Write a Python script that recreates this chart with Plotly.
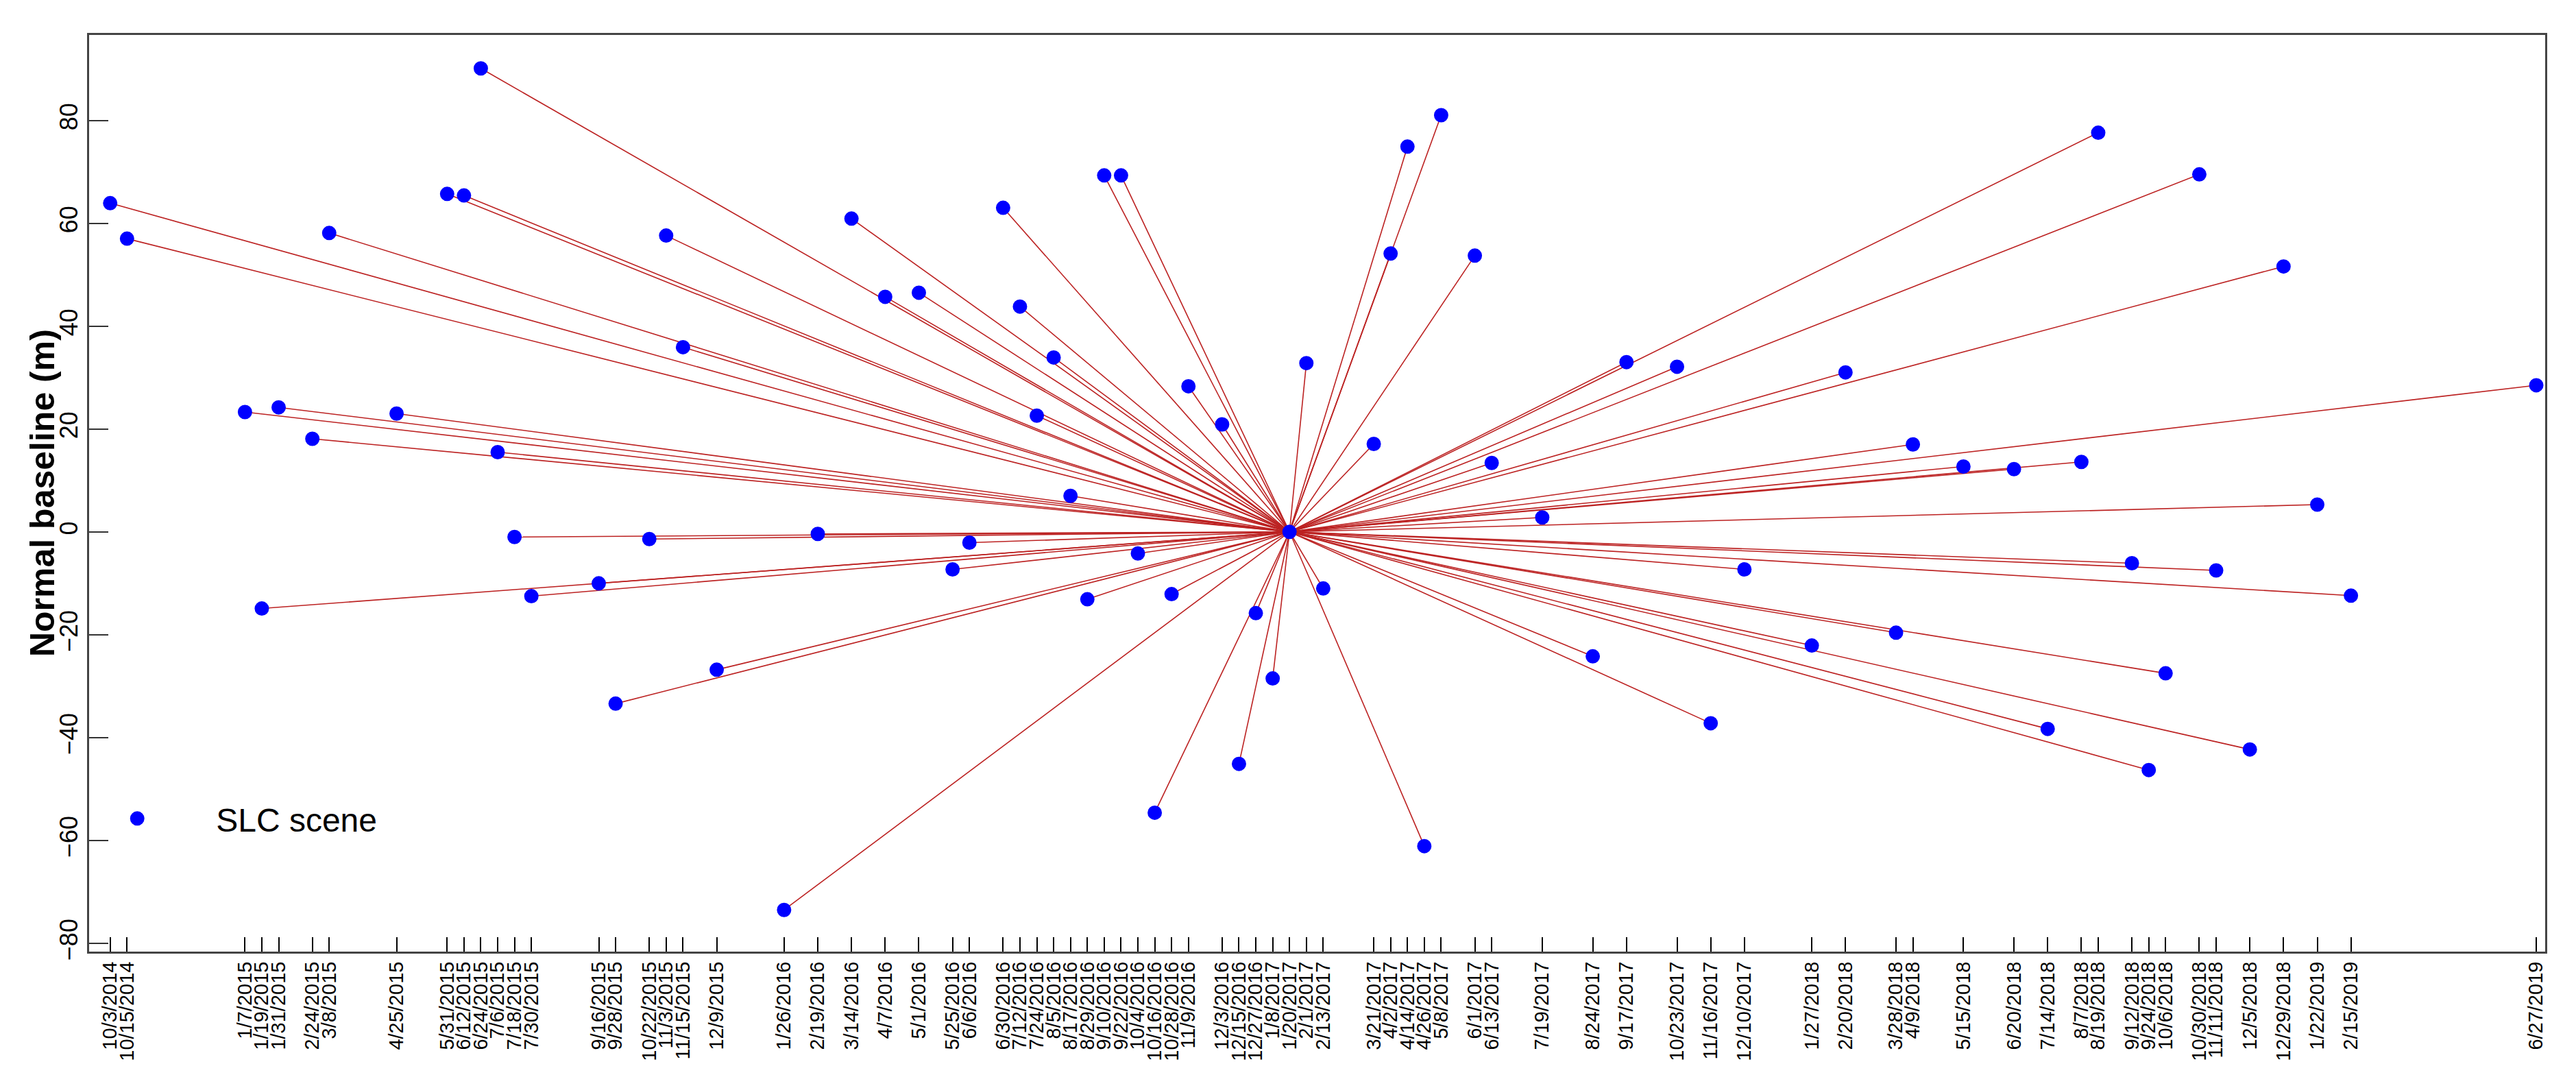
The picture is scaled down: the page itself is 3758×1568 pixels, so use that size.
import pandas as pd
import plotly.graph_objects as go

# Acquisition dates (tick labels) and perpendicular baselines (m)
dates = [
    "10/3/2014", "10/15/2014",
    "1/7/2015", "1/19/2015", "1/31/2015", "2/24/2015", "3/8/2015", "4/25/2015",
    "5/31/2015", "6/12/2015", "6/24/2015", "7/6/2015", "7/18/2015", "7/30/2015",
    "9/16/2015", "9/28/2015", "10/22/2015", "11/3/2015", "11/15/2015", "12/9/2015",
    "1/26/2016", "2/19/2016", "3/14/2016", "4/7/2016", "5/1/2016", "5/25/2016",
    "6/6/2016", "6/30/2016", "7/12/2016", "7/24/2016", "8/5/2016", "8/17/2016",
    "8/29/2016", "9/10/2016", "9/22/2016", "10/4/2016", "10/16/2016", "10/28/2016",
    "11/9/2016", "12/3/2016", "12/15/2016", "12/27/2016",
    "1/8/2017", "1/20/2017", "2/1/2017", "2/13/2017", "3/21/2017", "4/2/2017",
    "4/14/2017", "4/26/2017", "5/8/2017", "6/1/2017", "6/13/2017", "7/19/2017",
    "8/24/2017", "9/17/2017", "10/23/2017", "11/16/2017", "12/10/2017",
    "1/27/2018", "2/20/2018", "3/28/2018", "4/9/2018", "5/15/2018", "6/20/2018",
    "7/14/2018", "8/7/2018", "8/19/2018", "9/12/2018", "9/24/2018", "10/6/2018",
    "10/30/2018", "11/11/2018", "12/5/2018", "12/29/2018",
    "1/22/2019", "2/15/2019", "6/27/2019",
]

baselines = [
    63.9, 57.0,
    23.3, -14.9, 24.2, 18.1, 58.1, 23.0,
    65.7, 65.4, 90.1, 15.5, -1.0, -12.5,
    -10.0, -33.4, -1.4, 57.6, 35.9, -26.8,
    -73.5, -0.4, 60.9, 45.7, 46.5, -7.3,
    -2.1, 63.0, 43.8, 22.6, 33.9, 7.0,
    -13.1, 69.3, 69.3, -4.2, -54.6, -12.1,
    28.3, 20.9, -45.1, -15.8,
    -28.5, 0.0, 32.8, -11.0, 17.1, 54.1,
    74.9, -61.1, 81.0, 53.7, 13.4, 2.8,
    -24.2, 33.0, 32.1, -37.2, -7.3,
    -22.1, 31.0, -19.6, 17.0, 12.7, 12.2,
    -38.3, 13.6, 77.6, -6.1, -46.3, -27.5,
    69.5, -7.5, -42.3, 51.6,
    5.3, -12.4, 28.5,
]

master_date = "1/20/2017"
master_baseline = 0.0

y_ticks = [-80, -60, -40, -20, 0, 20, 40, 60, 80]

x = pd.to_datetime(dates, format="%m/%d/%Y")
xm = pd.to_datetime(master_date, format="%m/%d/%Y")

# connection lines master -> each scene
lx, ly = [], []
for d, b in zip(x, baselines):
    if d == xm:
        continue
    lx += [xm, d, None]
    ly += [master_baseline, b, None]

FONT = "Liberation Sans, Arial, sans-serif"

fig = go.Figure()
fig.add_trace(go.Scatter(
    x=lx, y=ly, mode="lines",
    line=dict(color="#BC2222", width=1.6),
    showlegend=False, hoverinfo="skip",
))
fig.add_trace(go.Scatter(
    x=x, y=baselines, mode="markers",
    marker=dict(color="#0000FF", size=16, line=dict(width=5, color="#0000FF")),
    name="SLC scene",
))

fig.update_layout(
    width=3758, height=1568,
    paper_bgcolor="white", plot_bgcolor="white",
    margin=dict(l=122, r=53, t=43, b=188),
    font=dict(family=FONT, color="black"),
    showlegend=True,
    legend=dict(
        x=-0.0125, y=0.145, xanchor="left", yanchor="middle",
        bgcolor="rgba(0,0,0,0)", borderwidth=0,
        itemwidth=220,
        font=dict(size=48, family=FONT, color="black"),
    ),
    xaxis=dict(
        type="date",
        range=["2014-09-18", "2019-07-03 08:00"],
        tickmode="array", tickvals=x, ticktext=dates,
        tickangle=-90,
        tickfont=dict(size=29, family=FONT, color="black"),
        ticks="inside", ticklen=21, tickwidth=2, tickcolor="black",
        showgrid=False, zeroline=False,
        showline=True, linecolor="#444444", linewidth=3, mirror=True,
    ),
    yaxis=dict(
        range=[-81.6, 96.6],
        tickmode="array", tickvals=y_ticks,
        tickangle=-90,
        tickfont=dict(size=36, family=FONT, color="black"),
        ticks="inside", ticklen=28, tickwidth=2, tickcolor="#333333",
        showgrid=False, zeroline=False,
        showline=True, linecolor="#444444", linewidth=3, mirror=True,
    ),
    annotations=[dict(
        text="<b>Normal baseline (m)</b>", textangle=-90,
        xref="paper", yref="paper", x=-0.0191, y=0.5,
        xanchor="center", yanchor="middle", showarrow=False,
        font=dict(size=50, family=FONT, color="black"),
    )],
)

fig.write_html("out.html")
